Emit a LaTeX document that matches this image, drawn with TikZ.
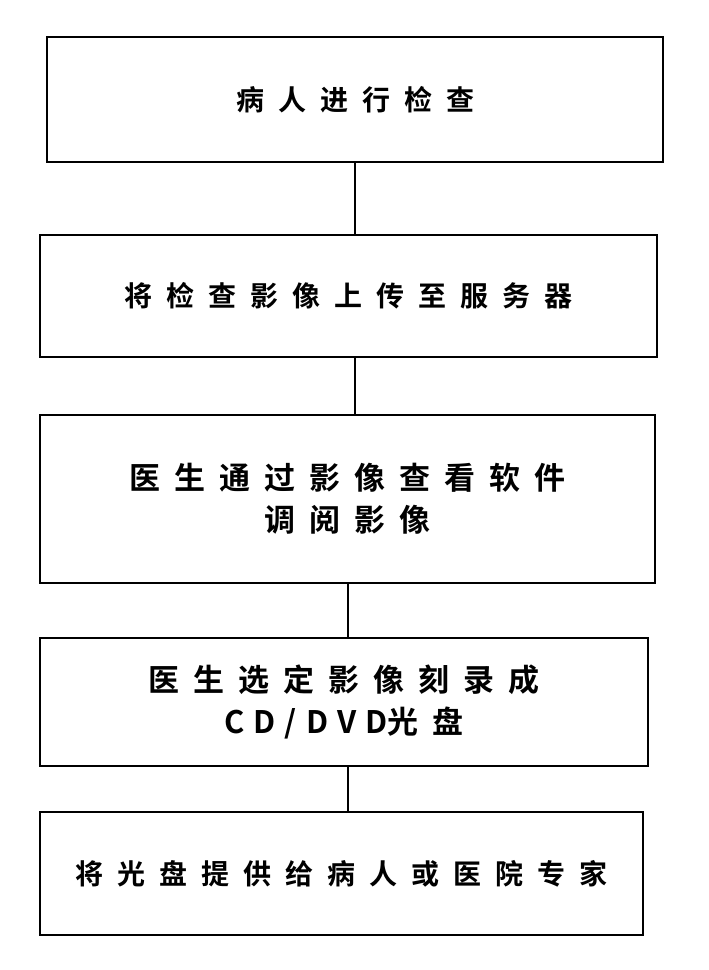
\documentclass[tikz,border=0pt]{standalone}
\usepackage{fontspec}
\newfontfamily\cjk[LetterSpace=50]{Noto Sans CJK SC Bold}
\newfontfamily\cjkb[LetterSpace=45]{Noto Sans CJK SC Bold}
\newfontfamily\cjkc[LetterSpace=30]{Noto Sans CJK SC Bold}
\begin{document}
\begin{tikzpicture}[x=1pt,y=1pt,
  box/.style={draw,line width=2pt,inner sep=0pt,align=center},
  small/.style={font=\cjk\fontsize{28}{30}\selectfont},
  big/.style={font=\cjkb\fontsize{31}{42}\selectfont},
  conn/.style={line width=2pt}]
\useasboundingbox (0,0) rectangle (709,970);
\node[box,small,minimum width=616,minimum height=125] (b1) at (355,870.5) {病人进行检查};
\node[box,small,minimum width=617,minimum height=122] (b2) at (348.5,674) {将检查影像上传至服务器};
\node[box,big,minimum width=615,minimum height=168] (b3) at (347.5,471) {医生通过影像查看软件\\调阅影像};
\node[box,big,minimum width=608,minimum height=128] (b4) at (344,268) {医生选定影像刻录成\\{\cjkc CD/DVD}光盘};
\node[box,small,minimum width=603,minimum height=123] (b5) at (341.5,96.5) {将光盘提供给病人或医院专家};
\draw[conn] (b1.south -| 355,0) -- (b2.north -| 355,0);
\draw[conn] (b2.south -| 355,0) -- (b3.north -| 355,0);
\draw[conn] (b3.south -| 348,0) -- (b4.north -| 348,0);
\draw[conn] (b4.south -| 348,0) -- (b5.north -| 348,0);
\end{tikzpicture}
\end{document}
